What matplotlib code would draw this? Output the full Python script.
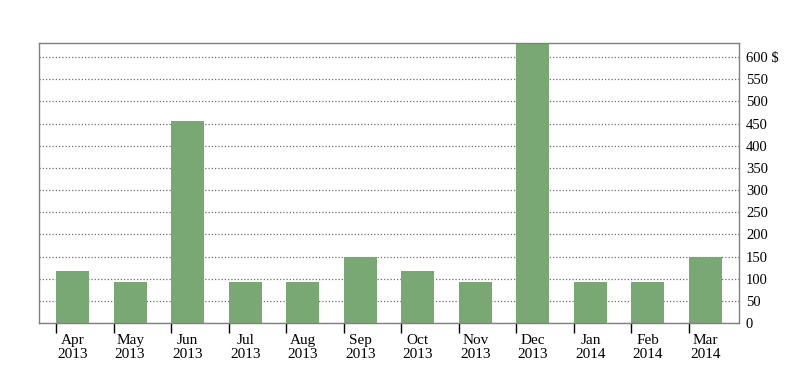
import numpy as np
import matplotlib.pyplot as plt

plt.rcParams['font.family'] = ['Liberation Serif', 'DejaVu Serif']

# monthly values ($)
months = ["Apr", "May", "Jun", "Jul", "Aug", "Sep", "Oct", "Nov", "Dec", "Jan", "Feb", "Mar"]
years = ["2013"] * 9 + ["2014"] * 3
values = [118, 93, 455, 93, 93, 150, 118, 93, 700, 93, 93, 150]
y_ticks = [0, 50, 100, 150, 200, 250, 300, 350, 400, 450, 500, 550, 600]

fig = plt.figure(figsize=(8.08, 3.83), dpi=100)
ax = fig.add_axes([39 / 808, 1 - 323 / 383, 700 / 808, 280 / 383])

x = np.arange(len(months))
bw = 0.574
ax.bar(x, values, width=bw, align='edge', color='#7aa874', zorder=2)

ax.set_xlim(-0.296, len(months) - 1 + 0.87)
ax.set_ylim(0, 632)

ax.yaxis.tick_right()
ax.set_yticks(y_ticks)
ax.set_yticklabels([f"{v} $" if v == 600 else str(v) for v in y_ticks])
ax.tick_params(axis='y', length=0, pad=5, labelsize=10.5)
ax.grid(axis='y', color='#707070', linestyle=(0, (1, 1.6)), linewidth=0.9, zorder=1)

# tick marks at bar left edges, labels centred on bars
ax.set_xticks(x)
ax.set_xticklabels([])
ax.set_xticks(x + bw / 2, minor=True)
ax.set_xticklabels([f"{m}\n{y}" for m, y in zip(months, years)], minor=True)
ax.tick_params(axis='x', which='major', length=7, width=1, color='black', direction='out')
ax.tick_params(axis='x', which='minor', length=0, pad=8, labelsize=11)
for lbl in ax.get_xticklabels(minor=True):
    lbl.set_linespacing(1.05)

for s in ax.spines.values():
    s.set_color('#808080')
    s.set_linewidth(1)

fig.savefig("out.png", dpi=100)
